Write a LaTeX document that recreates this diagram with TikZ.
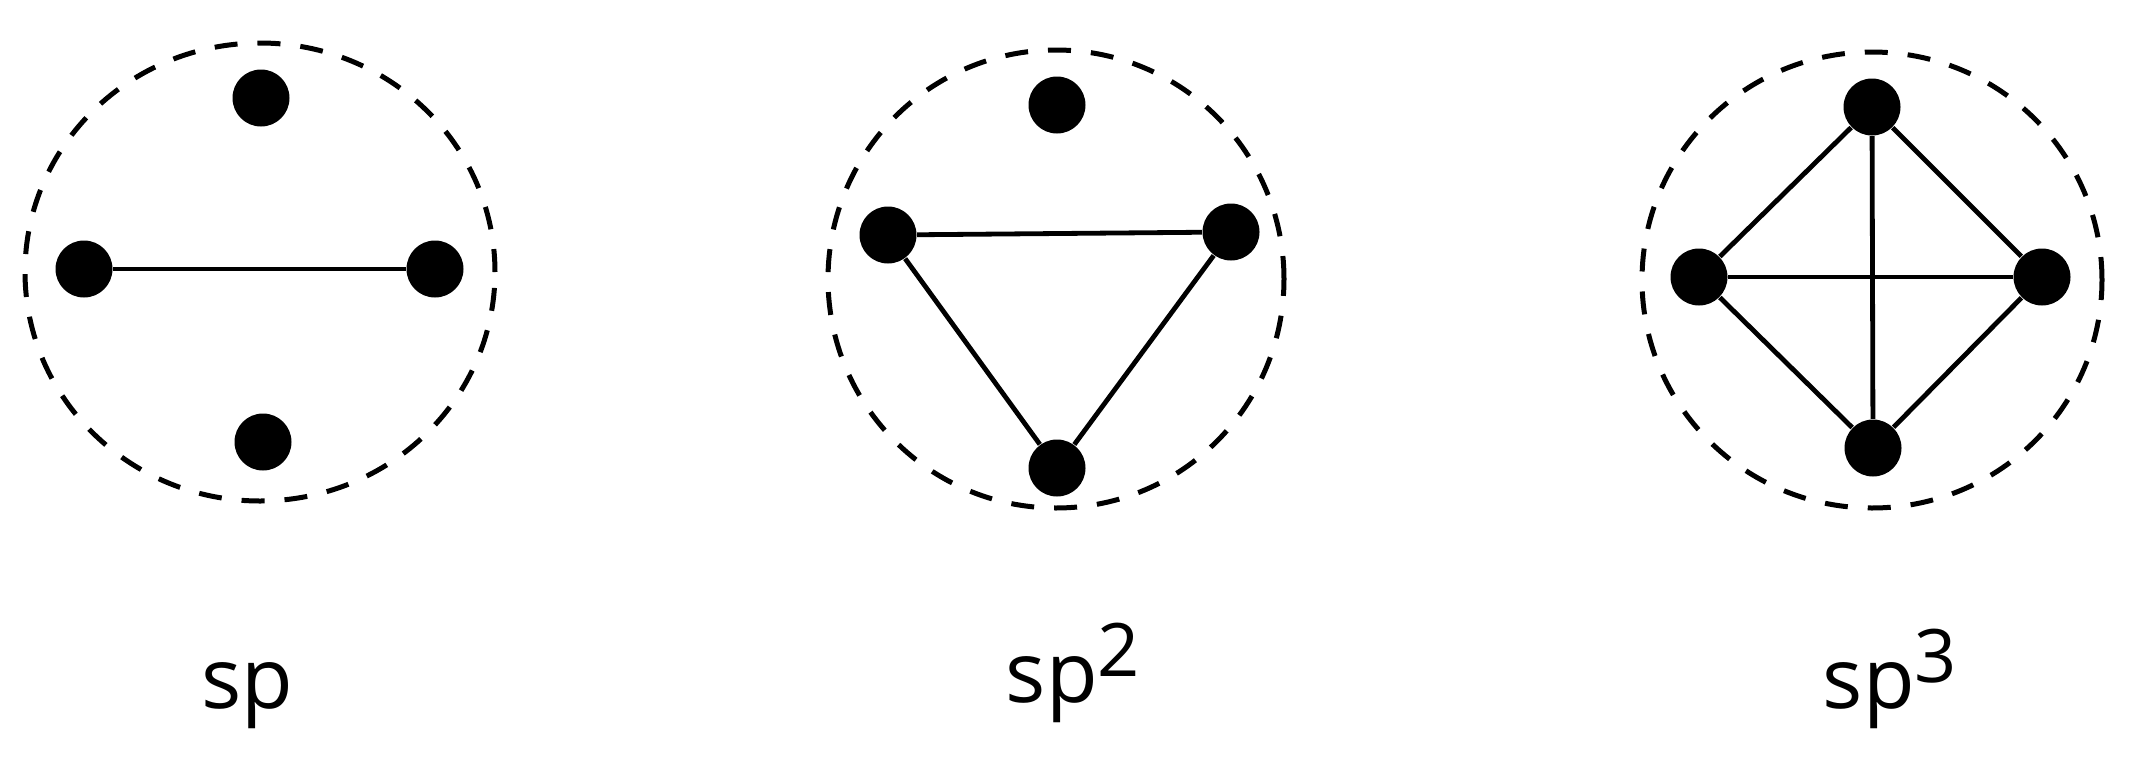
\documentclass[tikz,border=0pt]{standalone}
\usepackage{fontspec}
\setmainfont{Open Sans}
\tikzset{
    atom-dot/.style = {circle, fill=black, inner sep=0pt, minimum size=5.7mm},
    shell-ring/.style = {draw=black, line width=0.5mm, dash pattern=on 2.3mm off 2.0mm},
    bond-line/.style = {draw=black, line width=0.48mm},
    hybrid-label/.style = {anchor=base, inner sep=0pt, font=\fontsize{24}{28}\selectfont},
}
\newcommand{\supnum}[1]{\raisebox{0.3em}{\fontsize{21}{21}\selectfont #1}}

\begin{document}
\begin{tikzpicture}[x=0.1mm, y=-0.1mm]
\useasboundingbox (0,0) rectangle (2154,761);

\coordinate (sp-core) at (260,272);
\coordinate (sptwo-core) at (1056,279);
\coordinate (spthree-core) at (1872,280);
\draw[shell-ring] (sp-core) ellipse [x radius=23.5mm, y radius=22.9mm];
\draw[shell-ring] (sptwo-core) ellipse [x radius=22.8mm, y radius=22.9mm];
\draw[shell-ring] (spthree-core) ellipse [x radius=23mm, y radius=22.8mm];

\node[atom-dot] (sp-top) at (261,98) {};
\node[atom-dot] (sp-left) at (84,269) {};
\node[atom-dot] (sp-right) at (435,269) {};
\node[atom-dot] (sp-bottom) at (263,442) {};
\draw[bond-line] (sp-left) -- (sp-right);

\node[atom-dot] (sptwo-top) at (1057,105) {};
\node[atom-dot] (sptwo-left) at (888,235) {};
\node[atom-dot] (sptwo-right) at (1231,232) {};
\node[atom-dot] (sptwo-bottom) at (1057,468) {};
\draw[bond-line] (sptwo-left) -- (sptwo-right) -- (sptwo-bottom) -- (sptwo-left);

\node[atom-dot] (spthree-top) at (1872,107) {};
\node[atom-dot] (spthree-left) at (1699,277) {};
\node[atom-dot] (spthree-right) at (2042,277) {};
\node[atom-dot] (spthree-bottom) at (1873,448) {};
\draw[bond-line] (spthree-top) -- (spthree-left) -- (spthree-bottom) -- (spthree-right) -- (spthree-top);
\draw[bond-line] (spthree-top) -- (spthree-bottom);
\draw[bond-line] (spthree-left) -- (spthree-right);

\node[hybrid-label] (sp-name) at (247,708) {sp};
\node[hybrid-label] (sptwo-name) at (1073,702) {sp\supnum{2}};
\node[hybrid-label] (spthree-name) at (1890,708) {sp\supnum{3}};
\end{tikzpicture}
\end{document}
